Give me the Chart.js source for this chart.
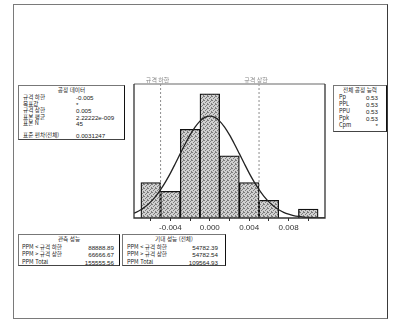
<!DOCTYPE html>
<html lang="ko">
<head>
<meta charset="utf-8">
<script src="https://cdn.jsdelivr.net/npm/chart.js@4.4.0/dist/chart.umd.min.js"></script>
<style>
  html, body { margin: 0; padding: 0; background: #fff; }
  #page { position: relative; width: 398px; height: 322px; overflow: hidden;
          font-family: "Noto Sans CJK KR", "Noto Sans", sans-serif; }
  #frame { position: absolute; left: 13px; top: 4px; width: 375px; height: 315px;
           border: 1px solid #7a7a7a; border-right: 1.5px solid #3a3a3a; box-sizing: border-box; }
  #c { position: absolute; left: 0; top: 0; }
  .box { position: absolute; background: #fff; box-sizing: border-box;
         border: 1px solid #777; border-right: 1.5px solid #111; border-bottom: 1px solid #444;
         font-size: 5.6px; color: #222; line-height: 1; }
  .box .t { position: absolute; left: 0; right: 0; text-align: center; white-space: nowrap; }
  .box .l, .box .v { position: absolute; white-space: nowrap; word-break: keep-all; }
  .box .v { font-family: "Liberation Sans", sans-serif; font-size: 6.2px; }
</style>
</head>
<body>
<div id="page">
  <div id="frame"></div>
  <canvas id="c" width="398" height="322"></canvas>
</div>
<script>
// Histogram bins (bin width 0.002) and counts
const binCenters = [-0.006, -0.004, -0.002, 0.000, 0.002, 0.004, 0.006, 0.008, 0.010];
const binCounts  = [4, 3, 10, 14, 7, 4, 2, 0, 1];

// Fitted normal curve (overall), sampled along the axis
const curveX = [-0.0077, -0.0075, -0.007, -0.0065, -0.006, -0.0055, -0.005, -0.0045, -0.004, -0.0035,
                -0.003, -0.0025, -0.002, -0.0015, -0.001, -0.0005, 0.000, 0.0005, 0.001, 0.0015,
                0.002, 0.0025, 0.003, 0.0035, 0.004, 0.0045, 0.005, 0.0055, 0.006, 0.0065,
                0.007, 0.0075, 0.008, 0.0085, 0.009, 0.0095, 0.010, 0.0105, 0.011, 0.0115, 0.0117];
const curveY = [0.55, 0.64, 0.93, 1.32, 1.82, 2.44, 3.19, 4.07, 5.06, 6.14,
                7.25, 8.34, 9.36, 10.24, 10.92, 11.34, 11.49, 11.34, 10.92, 10.24,
                9.36, 8.34, 7.25, 6.14, 5.06, 4.07, 3.19, 2.44, 1.82, 1.32,
                0.93, 0.64, 0.43, 0.28, 0.18, 0.11, 0.07, 0.04, 0.02, 0.013, 0.01];

// Specification limits
const specValues = [-0.005, 0.005];
const specNames  = ['규격 하한', '규격 상한'];

// Axis ticks
const xTickValues = [-0.006, -0.004, -0.002, 0.000, 0.002, 0.004, 0.006, 0.008, 0.010];
const xTickLabels = ['', '-0.004', '', '0.000', '', '0.004', '', '0.008', ''];
const xRange = [-0.0077, 0.0117];
const yRange = [0, 15.1];

// Summary tables
const processLabels = ['규격 하한', '목표값', '규격 상한', '표본 평균', '표본 N', '표준 편차(전체)'];
const processValues = ['-0.005', '*', '0.005', '2.22222e-009', '45', '0.0031247'];
const capLabels = ['Pp', 'PPL', 'PPU', 'Ppk', 'Cpm'];
const capValues = ['0.53', '0.53', '0.53', '0.53', '*'];
const observedLabels = ['PPM < 규격 하한', 'PPM > 규격 상한', 'PPM Total'];
const observedValues = ['88888.89', '66666.67', '155555.56'];
const expectedLabels = ['PPM < 규격 하한', 'PPM > 규격 상한', 'PPM Total'];
const expectedValues = ['54782.39', '54782.54', '109564.93'];

function makeBox(title, labels, values, geo) {
  const box = document.createElement('div');
  box.className = 'box';
  box.style.left = geo.left + 'px';
  box.style.top = geo.top + 'px';
  box.style.width = geo.width + 'px';
  box.style.height = geo.height + 'px';
  const t = document.createElement('div');
  t.className = 't';
  t.style.top = geo.titleY + 'px';
  t.textContent = title;
  box.appendChild(t);
  labels.forEach((lab, i) => {
    const l = document.createElement('div');
    l.className = 'l';
    l.style.left = geo.labelX + 'px';
    l.style.top = geo.rowY[i] + 'px';
    l.textContent = lab;
    box.appendChild(l);
    const v = document.createElement('div');
    v.className = 'v';
    if (geo.valueRight !== undefined) v.style.right = geo.valueRight + 'px';
    else v.style.left = geo.valueX + 'px';
    v.style.top = geo.rowY[i] + 'px';
    v.textContent = values[i];
    box.appendChild(v);
  });
  document.getElementById('page').appendChild(box);
}

makeBox('공정 데이터', processLabels, processValues,
  { left: 18, top: 85, width: 107, height: 55, titleY: 2, labelX: 4, valueX: 57,
    rowY: [9, 15.5, 22, 28.5, 35, 47] });
makeBox('전체 공정 능력', capLabels, capValues,
  { left: 333, top: 85, width: 54, height: 47, titleY: 2, labelX: 5, valueRight: 8,
    rowY: [9, 16, 23, 30, 37] });
makeBox('관측 성능', observedLabels, observedValues,
  { left: 18, top: 234, width: 102, height: 32, titleY: 2, labelX: 3, valueRight: 5,
    rowY: [10, 17, 25] });
makeBox('기대 성능 (전체)', expectedLabels, expectedValues,
  { left: 122, top: 234, width: 104, height: 32, titleY: 2, labelX: 4, valueRight: 7,
    rowY: [10, 17, 25] });

const canvas = document.getElementById('c');
const ctx = canvas.getContext('2d');

// stippled fill for the histogram bars
const tile = document.createElement('canvas');
tile.width = 4; tile.height = 4;
const tctx = tile.getContext('2d');
tctx.fillStyle = '#d0d0d0';
tctx.fillRect(0, 0, 4, 4);
tctx.fillStyle = '#7c7c7c';
[[0, 0], [2, 1], [1, 2], [3, 3], [3, 0]].forEach(([a, b]) => tctx.fillRect(a, b, 1, 1));
const stipple = ctx.createPattern(tile, 'repeat');

const plotFrame = {
  id: 'plotFrame',
  afterDatasetsDraw(chart) {
    const { ctx, chartArea: a } = chart;
    ctx.save();
    ctx.lineWidth = 1.5;
    ctx.strokeStyle = '#9a9a9a';
    ctx.beginPath(); ctx.moveTo(a.left, a.top); ctx.lineTo(a.right, a.top); ctx.stroke();
    ctx.strokeStyle = '#333';
    ctx.lineWidth = 1.3;
    ctx.beginPath();
    ctx.moveTo(a.left, a.top); ctx.lineTo(a.left, a.bottom);
    ctx.lineTo(a.right, a.bottom); ctx.lineTo(a.right, a.top);
    ctx.stroke();
    // spec limit captions above the plot
    const xs = chart.scales.x;
    ctx.fillStyle = '#8a8a8a';
    ctx.font = '6px "Noto Sans CJK KR"';
    ctx.textAlign = 'center';
    ctx.textBaseline = 'bottom';
    specValues.forEach((v, i) => ctx.fillText(specNames[i], xs.getPixelForValue(v) - 3, a.top - 1));
    ctx.restore();
  }
};

const specSets = specValues.map(v => ({
  type: 'line',
  data: [{ x: v, y: yRange[0] }, { x: v, y: yRange[1] }],
  borderColor: '#8c8c8c',
  borderWidth: 1,
  borderDash: [2, 2],
  pointRadius: 0,
  order: 1
}));

new Chart(ctx, {
  type: 'bar',
  data: {
    datasets: [
      {
        type: 'line',
        data: curveX.map((x, i) => ({ x, y: curveY[i] })),
        borderColor: '#222',
        borderWidth: 1.3,
        pointRadius: 0,
        cubicInterpolationMode: 'monotone',
        order: 0
      },
      ...specSets,
      {
        type: 'bar',
        data: binCenters.map((x, i) => ({ x, y: binCounts[i] })),
        backgroundColor: stipple,
        borderColor: '#111',
        borderWidth: 1.3,
        barPercentage: 1,
        categoryPercentage: 1,
        order: 2
      }
    ]
  },
  options: {
    responsive: false,
    animation: false,
    devicePixelRatio: 1,
    layout: { padding: { left: 134, right: 73, top: 84, bottom: 84 } },
    plugins: { legend: { display: false }, tooltip: { enabled: false } },
    scales: {
      x: {
        type: 'linear',
        min: xRange[0],
        max: xRange[1],
        offset: false,
        afterBuildTicks: s => { s.ticks = xTickValues.map(v => ({ value: v })); },
        afterFit: s => { s.height = 20; },
        grid: { drawOnChartArea: false, drawTicks: true, tickLength: 3, color: '#333', offset: false },
        border: { display: false },
        ticks: {
          autoSkip: false, maxRotation: 0, padding: 2, color: '#333',
          font: { family: 'Liberation Sans', size: 8 },
          callback: (v, i) => xTickLabels[i]
        }
      },
      y: { display: false, min: yRange[0], max: yRange[1] }
    }
  },
  plugins: [plotFrame]
});
</script>
</body>
</html>
